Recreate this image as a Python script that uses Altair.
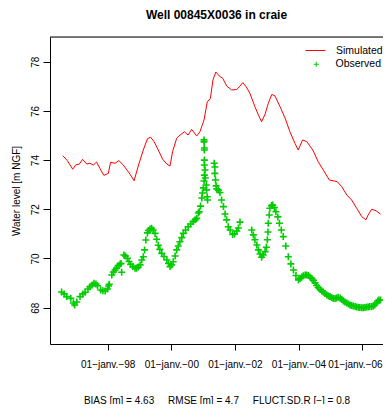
import altair as alt
import pandas as pd

# ---------------- data ----------------
sim_year = [1996.59, 1996.73, 1996.90, 1997.00, 1997.11, 1997.21, 1997.34, 1997.44, 1997.55, 1997.65,
            1997.76, 1997.88, 1998.02, 1998.09, 1998.23, 1998.35, 1998.49, 1998.70, 1998.83, 1998.97,
            1999.12, 1999.25, 1999.35, 1999.46, 1999.59, 1999.73, 1999.86, 1999.96, 2000.04, 2000.17,
            2000.24, 2000.41, 2000.53, 2000.64, 2000.80, 2000.90, 2001.03, 2001.13, 2001.23, 2001.31,
            2001.40, 2001.51, 2001.62, 2001.74, 2001.90, 2002.06, 2002.14, 2002.25, 2002.36, 2002.47,
            2002.63, 2002.74, 2002.84, 2002.95, 2003.05, 2003.16, 2003.26, 2003.42, 2003.58, 2003.73,
            2003.89, 2003.99, 2004.13, 2004.26, 2004.36, 2004.45, 2004.62, 2004.78, 2004.97, 2005.09,
            2005.22, 2005.36, 2005.52, 2005.67, 2005.83, 2005.99, 2006.12, 2006.19, 2006.30, 2006.44, 2006.58]
sim_level = [74.18, 73.98, 73.63, 73.81, 73.84, 74.03, 73.84, 73.87, 73.80, 73.92,
             73.65, 73.38, 73.46, 73.91, 73.87, 73.98, 73.80, 73.43, 73.16, 73.80,
             74.41, 74.87, 74.93, 74.75, 74.41, 74.03, 73.84, 73.76, 74.34, 74.89,
             74.98, 75.15, 75.02, 75.25, 74.98, 75.15, 75.63, 76.36, 76.51, 77.26,
             77.58, 77.42, 77.32, 77.01, 76.85, 76.87, 76.98, 77.15, 76.97, 76.72,
             76.17, 75.83, 75.56, 75.87, 76.31, 76.67, 76.61, 76.17, 75.70, 75.15,
             74.68, 74.41, 74.82, 74.75, 74.57, 74.41, 73.93, 73.60, 73.19, 73.16,
             73.12, 72.92, 72.58, 72.38, 72.04, 71.70, 71.57, 71.77, 72.00, 71.94, 71.80]

obs_year = [1996.55, 1996.63, 1996.71, 1996.84, 1996.92, 1996.96, 1997.03, 1997.13, 1997.22, 1997.29,
            1997.38, 1997.44, 1997.51, 1997.57, 1997.63, 1997.68, 1997.78, 1997.85, 1997.92, 1997.99,
            1998.03, 1998.05, 1998.13, 1998.18, 1998.23, 1998.28, 1998.33, 1998.39, 1998.42, 1998.44,
            1998.51, 1998.56, 1998.62, 1998.67, 1998.72, 1998.79, 1998.86, 1998.91, 1998.96, 1999.02,
            1999.07, 1999.12, 1999.16, 1999.20, 1999.25, 1999.28, 1999.33, 1999.38, 1999.43, 1999.49,
            1999.54, 1999.59, 1999.64, 1999.70, 1999.77, 1999.86, 1999.91, 1999.96, 2000.01, 2000.06,
            2000.12, 2000.17, 2000.22, 2000.27, 2000.33, 2000.38, 2000.45, 2000.53, 2000.61, 2000.69,
            2000.75, 2000.80, 2000.85, 2000.88, 2000.92, 2000.96, 2000.98, 2001.01, 2001.03, 2001.04,
            2001.06, 2001.04, 2001.04, 2001.04, 2001.04, 2001.03, 2001.03, 2001.07, 2001.10, 2001.11,
            2001.13, 2001.14, 2001.35, 2001.37, 2001.37, 2001.39, 2001.41, 2001.43, 2001.48, 2001.53,
            2001.58, 2001.64, 2001.69, 2001.74, 2001.79, 2001.85, 2001.93, 2001.99, 2002.06, 2002.11,
            2002.16, 2002.53, 2002.58, 2002.63, 2002.69, 2002.74, 2002.79, 2002.84, 2002.89, 2002.95,
            2002.99, 2003.02, 2003.04, 2003.05, 2003.08, 2003.10, 2003.15, 2003.19, 2003.24, 2003.29,
            2003.35, 2003.40, 2003.46, 2003.52, 2003.60, 2003.68, 2003.76, 2003.84, 2003.92, 2004.00,
            2004.05, 2004.10, 2004.15, 2004.21, 2004.26, 2004.31, 2004.36, 2004.42, 2004.47, 2004.52,
            2004.57, 2004.62, 2004.68, 2004.73, 2004.78, 2004.83, 2004.89, 2004.94, 2004.99, 2005.04,
            2005.09, 2005.15, 2005.20, 2005.25, 2005.31, 2005.36, 2005.41, 2005.46, 2005.52, 2005.57,
            2005.62, 2005.67, 2005.72, 2005.78, 2005.83, 2005.88, 2005.93, 2005.99, 2006.04, 2006.09,
            2006.14, 2006.19, 2006.24, 2006.30, 2006.35, 2006.40, 2006.45, 2006.49, 2006.53, 2006.58]
obs_level = [68.64, 68.56, 68.45, 68.38, 68.19, 68.11, 68.23, 68.45, 68.56, 68.63,
             68.76, 68.85, 68.92, 68.99, 68.96, 68.89, 68.72, 68.69, 68.68, 68.76,
             68.88, 68.95, 69.33, 69.45, 69.53, 69.61, 69.71, 69.78, 69.80, 69.44,
             70.14, 70.10, 70.01, 69.88, 69.76, 69.67, 69.60, 69.60, 69.65, 69.74,
             69.94, 70.07, 70.35, 70.75, 71.04, 71.14, 71.20, 71.23, 71.16, 71.02,
             70.78, 70.54, 70.37, 70.21, 70.08, 69.94, 69.80, 69.67, 69.74, 69.87,
             70.10, 70.35, 70.51, 70.68, 70.85, 71.02, 71.16, 71.29, 71.40, 71.50,
             71.57, 71.63, 71.85, 71.90, 72.13, 72.46, 72.66, 72.87, 73.15, 73.39,
             73.60, 73.80, 74.00, 74.41, 74.49, 74.74, 74.82, 73.27, 72.99, 72.79,
             72.51, 72.38, 73.87, 73.72, 73.46, 73.19, 72.95, 72.83, 72.78, 72.68,
             72.38, 72.11, 71.81, 71.57, 71.29, 71.16, 70.98, 71.00, 71.12, 71.24,
             71.48, 71.16, 70.96, 70.76, 70.55, 70.35, 70.18, 70.05, 70.14, 70.28,
             70.46, 70.76, 71.08, 71.43, 71.77, 72.04, 72.15, 72.17, 72.07, 71.90,
             71.69, 71.43, 71.16, 70.89, 70.51, 70.07, 69.78, 69.53, 69.31, 69.13,
             69.19, 69.25, 69.30, 69.33, 69.33, 69.31, 69.25, 69.19, 69.11, 69.01,
             68.90, 68.82, 68.74, 68.68, 68.64, 68.58, 68.52, 68.48, 68.45, 68.41,
             68.37, 68.37, 68.39, 68.42, 68.39, 68.33, 68.27, 68.23, 68.19, 68.15,
             68.11, 68.09, 68.07, 68.05, 68.03, 68.02, 68.01, 68.00, 68.00, 68.01,
             68.03, 68.03, 68.05, 68.05, 68.07, 68.11, 68.19, 68.27, 68.31, 68.31]

x_ticks = [1998, 2000, 2002, 2004, 2006]
y_ticks = [68, 70, 72, 74, 76, 78]
x_domain = [1996.186, 2006.657]
y_domain = [66.524, 79.004]

title_text = "Well 00845X0036 in craie"
y_title = "Water level [m NGF]"
gap = "\u00a0" * 5
footer = "BIAS [m] = 4.63" + gap + "RMSE [m] = 4.7" + gap + "FLUCT.SD.R [\u2212] = 0.8"
series_names = ["Simulated", "Observed"]
series_colors = ["#FF0000", "#00CD00"]

# ---------------- chart ----------------
FONT = "Liberation Sans"
W, H = 333, 307
PLUS = "M-1,0L1,0M0,-1L0,1"

sim = pd.DataFrame({"year": sim_year, "level": sim_level, "series": [series_names[0]] * len(sim_year)})
obs = pd.DataFrame({"year": obs_year, "level": obs_level, "series": [series_names[1]] * len(obs_year)})

x_enc = alt.X(
    "year:Q",
    scale=alt.Scale(domain=x_domain, nice=False, zero=False),
    axis=alt.Axis(
        values=x_ticks,
        labelExpr="'01\u2212janv.\u2212' + substring(toString(datum.value), 2, 4)",
        title=footer, titleFontSize=10, titleFontWeight="normal", titleColor="black",
        titlePadding=26, titleFont=FONT,
        grid=False, tickSize=6, tickColor="black", domainColor="black",
        labelColor="black", labelFontSize=10, labelPadding=9, labelFont=FONT,
        labelFlush=25, labelFlushOffset=20, labelOverlap=False,
    ),
)
y_enc = alt.Y(
    "level:Q",
    scale=alt.Scale(domain=y_domain, nice=False, zero=False),
    axis=alt.Axis(
        values=y_ticks, format="d",
        title=y_title, titleFontSize=10, titleFontWeight="normal", titleColor="black",
        titlePadding=9, titleFont=FONT,
        grid=False, tickSize=7, tickColor="black", domainColor="black",
        labelColor="black", labelFontSize=10, labelPadding=3, labelFont=FONT,
        labelAngle=-90, labelAlign="center", labelBaseline="bottom",
        labelFlush=False, labelOverlap=False,
    ),
)

line = alt.Chart(sim).mark_line(strokeWidth=1, clip=True).encode(
    x=x_enc, y=y_enc,
    color=alt.Color(
        "series:N",
        scale=alt.Scale(domain=[series_names[0]], range=[series_colors[0]]),
        legend=alt.Legend(
            title=None, orient="none", legendX=255, legendY=3, padding=0,
            symbolType="stroke", symbolSize=400, symbolStrokeWidth=1,
            labelFontSize=10.5, labelFont=FONT, labelColor="black", labelOffset=10,
        ),
    ),
)

points = alt.Chart(obs).mark_point(shape=PLUS, filled=False, size=49, strokeWidth=1.6,
                                   opacity=1, clip=True).encode(
    x=x_enc, y=y_enc,
    color=alt.Color(
        "series:N",
        scale=alt.Scale(domain=[series_names[1]], range=[series_colors[1]]),
        legend=alt.Legend(
            title=None, orient="none", legendX=261, legendY=22, padding=0,
            symbolType=PLUS, symbolSize=25, symbolStrokeWidth=1,
            labelFontSize=10.5, labelFont=FONT, labelColor="black", labelOffset=14,
        ),
    ),
)

top_border = alt.Chart(pd.DataFrame({"k": [0]})).mark_rule(color="black", strokeWidth=1).encode(
    x=alt.value(0), x2=alt.value(W), y=alt.value(0)
)

chart = (
    alt.layer(line, points, top_border)
    .resolve_scale(color="independent")
    .resolve_legend(color="independent")
    .properties(
        width=W, height=H,
        title=alt.TitleParams(title_text, fontSize=12, fontWeight="bold", font=FONT,
                              anchor="middle", frame="group", offset=15, color="black"),
        autosize=alt.AutoSizeParams(type="none"),
        padding={"left": 42, "top": 29, "right": 0, "bottom": 60},
    )
    .configure_view(stroke=None)
    .configure(font=FONT, background="white")
)

chart.save("out.html", embed_options={"renderer": "svg", "actions": False})
